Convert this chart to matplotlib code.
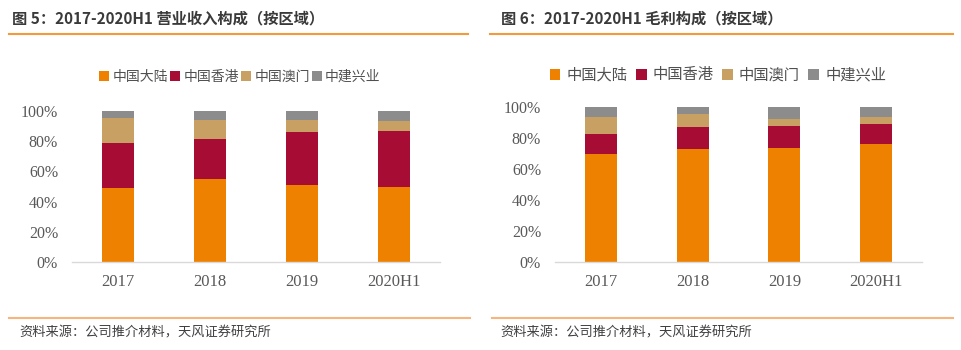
import matplotlib
matplotlib.use("Agg")
import matplotlib.pyplot as plt
from matplotlib.lines import Line2D
from matplotlib.patches import Patch
import numpy as np

plt.rcParams['font.family'] = ['Noto Sans CJK SC', 'DejaVu Sans']

categories = ["2017", "2018", "2019", "2020H1"]
series_names = ["中国大陆", "中国香港", "中国澳门", "中建兴业"]
colors = ["#EE8200", "#A60C34", "#C8A064", "#8C8C8C"]

# 营业收入构成 (%)
rev_mainland = [49.2, 54.7, 50.8, 49.7]
rev_hk = [29.9, 26.8, 35.1, 37.1]
rev_macau = [16.5, 12.8, 7.9, 6.6]
rev_cscd = [4.4, 5.7, 6.2, 6.6]

# 毛利构成 (%)
gp_mainland = [70.0, 73.1, 73.7, 75.9]
gp_hk = [12.5, 14.0, 13.8, 12.9]
gp_macau = [11.2, 8.4, 4.7, 4.9]
gp_cscd = [6.3, 4.5, 7.8, 6.3]

yticks = [0, 20, 40, 60, 80, 100]
ytick_labels = ["0%", "20%", "40%", "60%", "80%", "100%"]

titles = ["图 5：2017-2020H1 营业收入构成（按区域）", "图 6：2017-2020H1 毛利构成（按区域）"]
source = "资料来源：公司推介材料，天风证券研究所"

W, H = 962, 350
fig = plt.figure(figsize=(W / 100, H / 100), dpi=100)
fig.patch.set_facecolor("white")

def fx(px):
    return px / W

def fy(py):
    return 1 - py / H

serif = "Liberation Serif"
tick_color = "#595959"

def draw_panel(rect, data, legend_center, legend_fs, colspacing, handletextpad):
    ax = fig.add_axes(rect)
    x = np.arange(len(categories))
    bottom = np.zeros(len(categories))
    for vals, c in zip(data, colors):
        v = np.array(vals) / 100.0
        ax.bar(x, v, width=0.35, bottom=bottom, color=c, linewidth=0)
        bottom += v
    ax.set_xlim(-0.5, 3.5)
    ax.set_ylim(0, 1.0)
    ax.set_yticks([t / 100 for t in yticks])
    ax.set_yticklabels(ytick_labels, fontfamily=serif, fontsize=11.5, color=tick_color)
    ax.set_xticks(x)
    ax.set_xticklabels(categories, fontfamily=serif, fontsize=12, color=tick_color)
    for s in ["top", "right", "left"]:
        ax.spines[s].set_visible(False)
    ax.spines["bottom"].set_color("#D9D9D9")
    ax.spines["bottom"].set_linewidth(1.0)
    ax.tick_params(axis="both", length=0)
    ax.tick_params(axis="y", pad=10)
    ax.tick_params(axis="x", pad=9)
    handles = [Patch(facecolor=c, edgecolor="none") for c in colors]
    fig.legend(handles, series_names, loc="center", bbox_to_anchor=legend_center,
               ncol=4, frameon=False, fontsize=legend_fs, handlelength=0.7,
               handleheight=0.7, handletextpad=handletextpad, columnspacing=colspacing,
               labelcolor="#505050")
    return ax

draw_panel([fx(72), fy(262), fx(368), (262 - 111) / H],
           [rev_mainland, rev_hk, rev_macau, rev_cscd],
           (fx(240), fy(77)), 10, 0.15, 0.25)
draw_panel([fx(555), fy(262), fx(367), (262 - 107) / H],
           [gp_mainland, gp_hk, gp_macau, gp_cscd],
           (fx(718), fy(75)), 11, 0.55, 0.4)

# titles and rules
for x0, x1, tx, ty, ly, t in [(9, 468, 12, 18, 34, titles[0]), (490, 953, 501, 18, 33.5, titles[1])]:
    fig.text(fx(tx), fy(ty), t, fontsize=11, fontweight="bold", color="#3A3A3A",
             ha="left", va="center")
    fig.add_artist(Line2D([fx(x0), fx(x1)], [fy(ly), fy(ly)], color="#F39A3C", linewidth=1.5))

for x0, x1, tx in [(9, 470, 19), (492, 953, 500)]:
    fig.add_artist(Line2D([fx(x0), fx(x1)], [fy(318), fy(318)], color="#F6B57E", linewidth=1.5))
    fig.text(fx(tx), fy(333), source, fontsize=9.5, color="#404040", ha="left", va="center")

fig.savefig("out.png", dpi=100, facecolor="white")
